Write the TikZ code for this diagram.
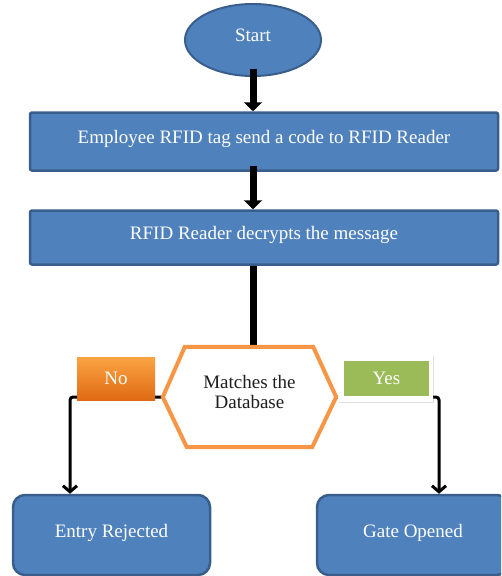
\documentclass[tikz,border=0pt]{standalone}
\usepackage{fontspec}
\setmainfont{Liberation Serif}
\newfontfamily\flowserif{Liberation Serif}
\usetikzlibrary{arrows.meta,shapes.geometric,calc,shadows,backgrounds}

\definecolor{flowblue}{HTML}{4F81BD}
\definecolor{flowedge}{HTML}{3A5E8C}
\definecolor{hexorange}{HTML}{F79646}
\definecolor{notop}{HTML}{FBA444}
\definecolor{nobottom}{HTML}{E06A14}
\definecolor{yesgreen}{HTML}{9BBB59}
\definecolor{darktext}{HTML}{1E1E1E}

\newcommand\flowfont{\flowserif\fontsize{19}{20}\selectfont}

\begin{document}
\begin{tikzpicture}[x=1pt,y=-1pt,
  blockbase/.style={fill=flowblue, draw=flowedge, line width=2.5pt, text=white,
    font=\flowfont, inner sep=0pt},
  stepbox/.style={blockbase, rounded corners=2pt, minimum width=468pt},
  endbox/.style={blockbase, rounded corners=12pt, minimum height=80pt, text depth=8pt},
  ovalbox/.style={blockbase, ellipse, line width=2pt, minimum width=136pt, minimum height=72pt},
  hexline/.style={draw=hexorange, line width=4pt, fill=white, line join=miter},
  nobox/.style={top color=notop, bottom color=nobottom, text=white, font=\flowfont,
    minimum width=78pt, minimum height=43pt, inner sep=0pt},
  yescard/.style={fill=white, drop shadow={opacity=0.25, shadow xshift=1.2pt, shadow yshift=-1.2pt},
    minimum width=95pt, minimum height=47pt, inner sep=0pt},
  yesbox/.style={fill=yesgreen, text=white, font=\flowfont,
    minimum width=85pt, minimum height=35pt, inner sep=0pt},
  mainflow/.style={line width=7pt, -{Triangle[width=18pt,length=9pt]}},
  trunk/.style={line width=7pt},
  branch/.style={line width=3pt, rounded corners=3pt, -{Straight Barb[width=14pt,length=6pt]}}
]
\clip (0,0) rectangle (501,576);

% process blocks
\node[ovalbox, text depth=10pt] (start) at (253,40) {Start};
\node[stepbox, minimum height=58pt, text depth=10pt] (tag) at (264,141.5)
  {Employee RFID tag send a code to RFID Reader};
\node[stepbox, minimum height=54pt, text depth=9pt] (decrypt) at (264,237.5)
  {RFID Reader decrypts the message};

% decision hexagon
\node[minimum width=173pt, minimum height=100pt, inner sep=0pt] (match) at (249.5,397) {};
\draw[hexline] (match.west) -- ($(match.north west)+(22,0)$) -- ($(match.north east)+(-23,0)$)
  -- (match.east) -- ($(match.south east)+(-24,0)$) -- ($(match.south west)+(24,0)$) -- cycle;
\node[align=center, text=darktext, font=\flowfont, inner sep=0pt] (matchtext)
  at ($(match.center)+(0,-5)$) {Matches the\\Database};

% outcomes
\node[endbox, minimum width=197pt] (rej) at (111.5,535) {Entry Rejected};
\node[endbox, minimum width=192pt] (gate) at (413,535) {Gate Opened};

% branch labels
\node[nobox] (no) at (116,378.5) {No};
\node[yescard] (yescard) at (385.5,378.5) {};
\node[yesbox] (yes) at (386.5,378.5) {Yes};

% connectors: main vertical flow runs straight down at the oval's axis
\draw[mainflow] ($(start.south)+(0,-8)$) -- (start.south |- tag.north);
\draw[mainflow] ($(start.south |- tag.south)+(0,-6)$) -- (start.south |- decrypt.north);

\coordinate (lturn) at (70,397);
\coordinate (rturn) at (439,397);
\begin{scope}[on background layer]
  \draw[trunk] (start.south |- decrypt.south) -- (start.south |- match.north);
  \draw[branch] (match.west) -- (lturn) -- (lturn |- rej.north);
  \draw[branch] (match.east) -- (rturn) -- (rturn |- gate.north);
\end{scope}
\end{tikzpicture}
\end{document}
